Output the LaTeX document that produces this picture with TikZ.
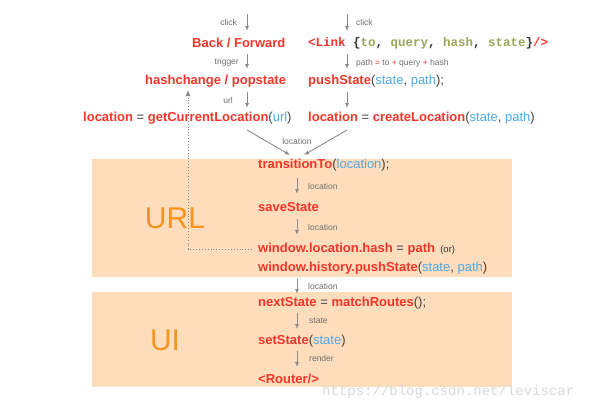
\documentclass[tikz,border=0pt]{standalone}
\usepackage{fontspec}
\usetikzlibrary{arrows.meta}
\setmainfont{Liberation Sans}
\newfontfamily\monof{Liberation Mono}
\begin{document}
\definecolor{rd}{HTML}{F5352A}
\definecolor{bl}{HTML}{4FA8E8}
\definecolor{ol}{HTML}{9AA55A}
\definecolor{bx}{HTML}{FDDDBC}
\definecolor{og}{HTML}{F7941D}
\definecolor{ar}{HTML}{8A8A8A}
\begin{tikzpicture}[x=1pt,y=-1pt,
  main/.style={anchor=west,inner sep=0pt,font=\fontsize{13}{15}\selectfont\bfseries,text=rd},
  lbl/.style={anchor=west,inner sep=0pt,font=\fontsize{8.5}{10}\selectfont,text=ar!80!black},
  arr/.style={draw=ar,line width=0.9pt,-{Latex[length=5pt,width=4pt]}},
  big/.style={inner sep=0pt,font=\fontsize{30}{32}\selectfont,text=og}]
\useasboundingbox (0,0) rectangle (600,407);
\fill[bx] (92,159) rectangle (512,277);
\fill[bx] (92,292) rectangle (512,387);
\node[big] (url) at (175,218) {URL};
\node[big] (ui) at (165,340) {UI};
% top left column
\coordinate (c1a) at (247,14); \coordinate (c1b) at (247,31);
\draw[arr] (c1a) -- (c1b);
\node[lbl,anchor=east] (click1) at (237,22) {click};
\node[main] (bf) at (192,43) {Back / Forward};
\coordinate (t1a) at (247,54); \coordinate (t1b) at (247,69);
\draw[arr] (t1a) -- (t1b);
\node[lbl,anchor=east] (trig) at (239,62) {trigger};
\node[main] (hc) at (145,81) {hashchange / popstate};
\coordinate (u1a) at (247,92); \coordinate (u1b) at (247,108);
\draw[arr] (u1a) -- (u1b);
\node[lbl,anchor=east] (urll) at (233,100) {url};
\node[main] (gcl) at (83,118) {location\textmd{\textcolor{black!75}{~=~}}getCurrentLocation\textmd{\textcolor{black!75}{(}\textcolor{bl}{url}\textcolor{black!75}{)}}};
% top right column
\coordinate (c2a) at (347,14); \coordinate (c2b) at (347,31);
\draw[arr] (c2a) -- (c2b);
\node[lbl] (click2) at (356,22) {click};
\node[main,font=\monof\fontsize{12.5}{14}\selectfont\bfseries] (link) at (308,43) {<Link \textcolor{black!80}{\{}\textcolor{ol}{to}\textcolor{black!80}{, }\textcolor{ol}{query}\textcolor{black!80}{, }\textcolor{ol}{hash}\textcolor{black!80}{, }\textcolor{ol}{state}\textcolor{black!80}{\}}/>};
\coordinate (p2a) at (347,54); \coordinate (p2b) at (347,69);
\draw[arr] (p2a) -- (p2b);
\node[lbl] (pth) at (356,63) {path \textcolor{rd}{=} to \textcolor{rd}{+} query \textcolor{rd}{+} hash};
\node[main] (ps) at (308,81) {pushState\textmd{\textcolor{black!75}{(}\textcolor{bl}{state}\textcolor{black!75}{, }\textcolor{bl}{path}\textcolor{black!75}{);}}};
\coordinate (l2a) at (347,92); \coordinate (l2b) at (347,108);
\draw[arr] (l2a) -- (l2b);
\node[main] (cl) at (308,118) {location\textmd{\textcolor{black!75}{~=~}}createLocation\textmd{\textcolor{black!75}{(}\textcolor{bl}{state}\textcolor{black!75}{, }\textcolor{bl}{path}\textcolor{black!75}{)}}};
% merge
\coordinate (d1) at (247,130); \coordinate (d2) at (347,130);
\coordinate (e1) at (290,155); \coordinate (e2) at (304,155);
\draw[arr] (d1) -- (e1);
\draw[arr] (d2) -- (e2);
\node[lbl,anchor=center] (locm) at (297,141) {location};
% URL box
\node[main] (tr) at (258,165) {transitionTo\textmd{\textcolor{black!75}{(}\textcolor{bl}{location}\textcolor{black!75}{);}}};
\draw[arr] (297,178) -- (297,194);
\node[lbl] (l3) at (308,186) {location};
\node[main] (ss) at (258,207) {saveState};
\draw[arr] (297,219) -- (297,235);
\node[lbl] (l4) at (308,227) {location};
\node[main] (wh) at (258,249) {window.location.hash\textmd{\textcolor{black!75}{~=~}}path\textmd{\fontsize{9.5}{10}\selectfont\textcolor{black!80}{~~(or)}}};
\node[main] (wp) at (258,268) {window.history.pushState\textmd{\textcolor{black!75}{(}\textcolor{bl}{state}\textcolor{black!75}{, }\textcolor{bl}{path}\textcolor{black!75}{)}}};
\draw[arr] (297,279) -- (297,294);
\node[lbl] (l5) at (308,286) {location};
% UI box
\node[main] (ns) at (258,303) {nextState\textmd{\textcolor{black!75}{~=~}}matchRoutes\textmd{\textcolor{black!75}{();}}};
\draw[arr] (297,313) -- (297,329);
\node[lbl] (l6) at (309,321) {state};
\node[main] (st) at (258,341) {setState\textmd{\textcolor{black!75}{(}\textcolor{bl}{state}\textcolor{black!75}{)}}};
\draw[arr] (297,351) -- (297,367);
\node[lbl] (l7) at (309,358) {render};
\node[main] (rt) at (258,379) {<Router/>};
% dotted feedback
\coordinate (fb) at (188,90);
\draw[draw=ar,line width=0.9pt,dotted,-{Latex[length=6pt,width=5pt]}] ([xshift=-6pt]wh.west) -| (fb);
% watermark
\node[inner sep=0pt,anchor=west,font=\monof\fontsize{14}{16}\selectfont,text=black!15] (wm) at (322,392) {https://blog.csdn.net/leviscar};
\end{tikzpicture}
\end{document}
